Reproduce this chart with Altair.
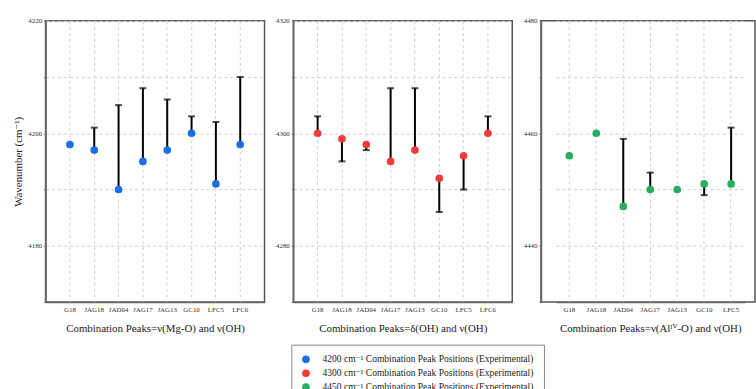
import altair as alt
import pandas as pd

samples = ["G18", "JAG18", "JAD04", "JAG17", "JAG13", "GC10", "LFC5", "LFC6"]
samples3 = ["G18", "JAG18", "JAD04", "JAG17", "JAG13", "GC10", "LFC5"]

series = [
    "4200 cm\u207b\u00b9 Combination Peak Positions (Experimental)",
    "4300 cm\u207b\u00b9 Combination Peak Positions (Experimental)",
    "4450 cm\u207b\u00b9 Combination Peak Positions (Experimental)",
]
colors = ["#1a6fe6", "#f23b3b", "#27ae60"]

# panel 1: v(Mg-O) + v(OH)
p1_value = [4198, 4197, 4190, 4195, 4197, 4200, 4191, 4198]
p1_end = [None, 4201, 4205, 4208, 4206, 4203, 4202, 4210]
# panel 2: delta(OH) + v(OH)
p2_value = [4300, 4299, 4298, 4295, 4297, 4292, 4296, 4300]
p2_end = [4303, 4295, 4297, 4308, 4308, 4286, 4290, 4303]
# panel 3: v(AlIV-O) + v(OH)
p3_value = [4456, 4460, 4447, 4450, 4450, 4451, 4451]
p3_end = [None, None, 4459, 4453, None, 4449, 4461]

titles = [
    "Combination Peaks=\u03bd(Mg-O) and \u03bd(OH)",
    "Combination Peaks=\u03b4(OH) and \u03bd(OH)",
    "Combination Peaks=\u03bd(Al\u1d35\u2c7d-O) and \u03bd(OH)",
]

rows = []
for pid, cats, vals, ends in [(1, samples, p1_value, p1_end),
                               (2, samples, p2_value, p2_end),
                               (3, samples3, p3_value, p3_end)]:
    for s, v, e in zip(cats, vals, ends):
        rows.append({"panel": pid, "sample": s, "value": v, "end": e,
                     "series": series[pid - 1]})
df = pd.DataFrame(rows)

FONT = "Liberation Serif, Times New Roman, DejaVu Serif, serif"
H = 284


def panel(pid, cats, domain, title, width, xscale, first):
    base = alt.Chart(df).transform_filter(alt.datum.panel == pid)
    xenc = alt.X("sample:N", sort=cats, scale=xscale,
                 axis=alt.Axis(title=title, labelAngle=0, ticks=False, grid=True,
                               labelFontSize=7, labelPadding=4,
                               titleFontSize=11, titlePadding=10,
                               titleFont=FONT, labelFont=FONT,
                               titleFontWeight="normal", titleColor="#222",
                               labelColor="#333"))
    common = dict(values=list(range(domain[0], domain[1] + 1, 10)),
                  labelExpr="datum.value % 20 == 0 ? format(datum.value, 'd') : ''",
                  labelFontSize=7, labelFont=FONT, tickSize=2,
                  labelPadding=2, labelColor="#333", grid=True)
    if first:
        yaxis = alt.Axis(title="Wavenumber (cm\u207b\u00b9)",
                         titleFontSize=11, titleFont=FONT,
                         titleFontWeight="normal", titleColor="#222",
                         titlePadding=4, **common)
    else:
        yaxis = alt.Axis(title=None, minExtent=20, maxExtent=20, **common)
    yenc = alt.Y("value:Q", scale=alt.Scale(domain=domain, nice=False), axis=yaxis)
    bars = base.transform_filter("datum.end != null")
    rules = bars.mark_rule(strokeWidth=2, color="black").encode(
        x=xenc, y=yenc, y2="end:Q")
    caps = bars.mark_tick(size=7, thickness=2, color="black").encode(
        x=xenc, y=alt.Y("end:Q", scale=alt.Scale(domain=domain, nice=False)))
    pts = base.mark_circle(size=60, opacity=1).encode(
        x=xenc, y=yenc,
        color=alt.Color("series:N", scale=alt.Scale(domain=series, range=colors),
                        legend=alt.Legend(title=None, orient="none",
                                          legendX=248, legendY=327,
                                          labelFont=FONT, labelFontSize=9.6,
                                          labelColor="#222", symbolType="circle",
                                          symbolSize=60, symbolStrokeWidth=0,
                                          rowPadding=3, labelOffset=12,
                                          strokeColor="#888", padding=10,
                                          labelLimit=400,
                                          fillColor="white")))
    return alt.layer(rules, caps, pts).properties(width=width, height=H)


c1 = panel(1, samples, [4170, 4220], titles[0], 221, alt.Scale(padding=1), True)
c2 = panel(2, samples, [4270, 4320], titles[1], 221, alt.Scale(padding=1), False)
c3 = panel(3, samples3, [4430, 4480], titles[2], 216,
           alt.Scale(range=[15, 205.5]), False)

chart = alt.hconcat(c1, c2, c3, spacing=7).resolve_scale(
    color="shared", x="independent", y="independent"
).configure(padding={"left": 12, "top": 14, "right": 0, "bottom": 0}
).configure_view(stroke="#555", strokeWidth=1.5
).configure_axis(gridDash=[3, 3], gridColor="#cfcfcf", domainColor="#666",
                 domainWidth=1.5, tickColor="#666")

chart.save("out.html", embed_options={"renderer": "svg", "actions": False})
